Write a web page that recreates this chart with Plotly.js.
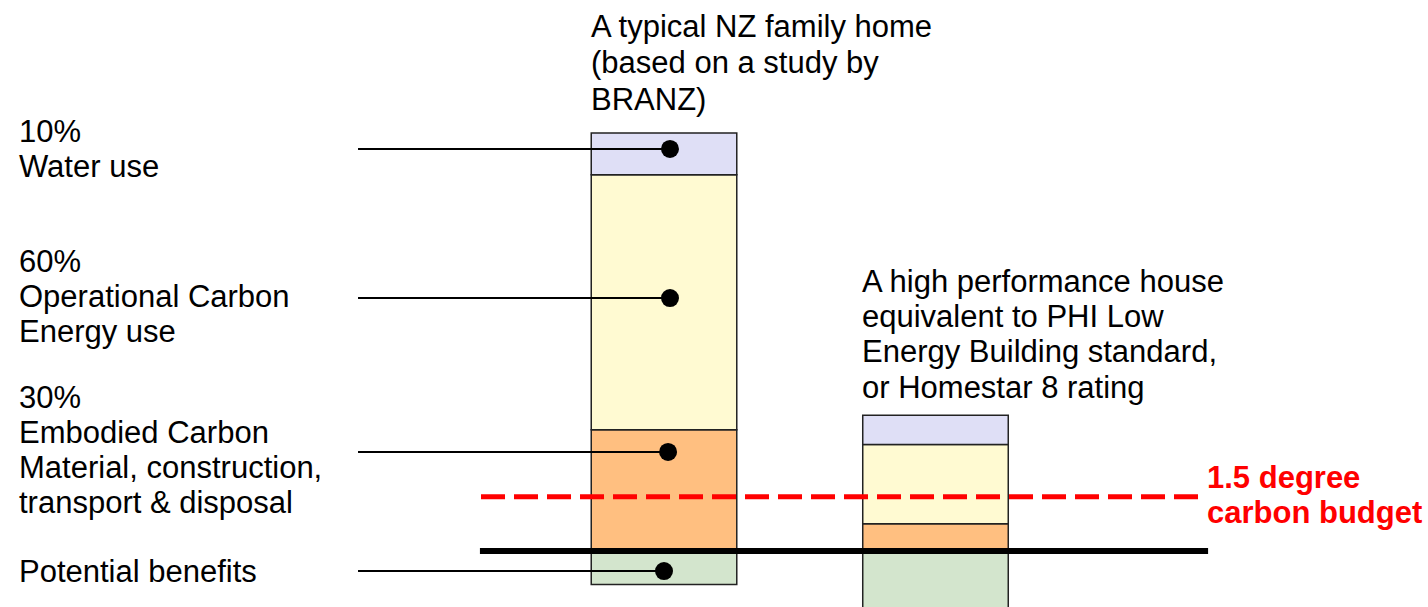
<!DOCTYPE html>
<html>
<head>
<meta charset="utf-8">
<script src="https://cdn.plot.ly/plotly-3.0.1.min.js"></script>
<style>
  html, body { margin: 0; padding: 0; background: #fff; }
  #chart { width: 1428px; height: 607px; }
</style>
</head>
<body>
<div id="chart"></div>
<script>
// two houses, drawn as stacked bars at x = 1 and x = 2
const houseX = [1, 2];
// lifetime carbon, as % of the typical home's total
const embodied = [29, 6.5];
const operational = [61, 19];
const waterUse = [10, 7];
const benefits = [-8, -16];
const carbonBudget = 13;

// labels on the left, one block per component
const componentLabels = [
  ['10%', 'Water use'],
  ['60%', 'Operational Carbon', 'Energy use'],
  ['30%', 'Embodied Carbon', 'Material, construction,', 'transport & disposal'],
  ['Potential benefits']
];
// where each leader line ends on the first bar
const leaderX = [1.022, 1.022, 1.015, 1.0];
const leaderY = [96.2, 60.5, 23.7, -4.8];

const houseTitles = [
  ['A typical NZ family home', '(based on a study by', 'BRANZ)'],
  ['A high performance house', 'equivalent to PHI Low', 'Energy Building standard,', 'or Homestar 8 rating']
];
const budgetLabel = ['1.5 degree', 'carbon budget'];

const W = 1428, H = 607;
const FONT = 'Liberation Sans, Arial, sans-serif';
const FS = 31;
const barW = 0.536;
const outline = { color: '#222', width: 1.5 };

function stack(name, vals, color) {
  return {
    type: 'bar', name: name, x: houseX, y: vals, width: barW,
    marker: { color: color, line: outline },
    hoverinfo: 'skip'
  };
}

const traces = [
  stack('Potential benefits', benefits, '#d3e5cd'),
  stack('Embodied', embodied, '#ffbf80'),
  stack('Operational', operational, '#fffad2'),
  stack('Water use', waterUse, '#dfdff6')
];

// leader lines
const lx = [], ly = [];
leaderY.forEach((y, i) => { lx.push(-0.127, leaderX[i], null); ly.push(y, y, null); });
traces.push({
  type: 'scatter', mode: 'lines', x: lx, y: ly,
  line: { color: '#000', width: 2 }, hoverinfo: 'skip', cliponaxis: false
});
traces.push({
  type: 'scatter', mode: 'markers', x: leaderX, y: leaderY,
  marker: { color: '#000', size: 18 }, hoverinfo: 'skip', cliponaxis: false
});

// text placed line by line (px baselines)
function lines(textLines, xpx, firstBase, step, font) {
  return textLines.map((t, i) => ({
    xref: 'paper', yref: 'paper',
    x: xpx / W, y: 1 - (firstBase + i * step - 10.7) / H,
    xanchor: 'left', yanchor: 'middle',
    text: t, showarrow: false, font: font
  }));
}
const black = { family: FONT, size: FS, color: '#000' };
const red = { family: FONT, size: FS, color: '#ff0000', weight: 'bold' };

let annotations = [];
const labelBase = [142, 272, 408, 582];
componentLabels.forEach((blk, i) => {
  annotations = annotations.concat(lines(blk, 17, labelBase[i], 35, black));
});
annotations = annotations.concat(lines(houseTitles[0], 589, 37, 36.5, black));
annotations = annotations.concat(lines(houseTitles[1], 860, 292, 35.3, black));
annotations = annotations.concat(lines(budgetLabel.map(t => '<b>' + t + '</b>'), 1205, 488, 35, red));

const layout = {
  width: W, height: H,
  margin: { l: 0, r: 0, t: 0, b: 0 },
  paper_bgcolor: '#fff', plot_bgcolor: '#fff',
  barmode: 'relative',
  showlegend: false,
  hovermode: false,
  xaxis: { range: [-1.4457, 3.814], visible: false, fixedrange: true },
  yaxis: { range: [-13.4, 131.82], visible: false, fixedrange: true },
  shapes: [
    { type: 'line', x0: 0.326, x1: 2.993, y0: carbonBudget, y1: carbonBudget,
      line: { color: '#ff0000', width: 5, dash: '24px,9px' } },
    { type: 'line', x0: 0.322, x1: 3.004, y0: 0, y1: 0,
      line: { color: '#000', width: 6 } }
  ],
  annotations: annotations
};

Plotly.newPlot('chart', traces, layout, { staticPlot: true, displayModeBar: false });
</script>
</body>
</html>
